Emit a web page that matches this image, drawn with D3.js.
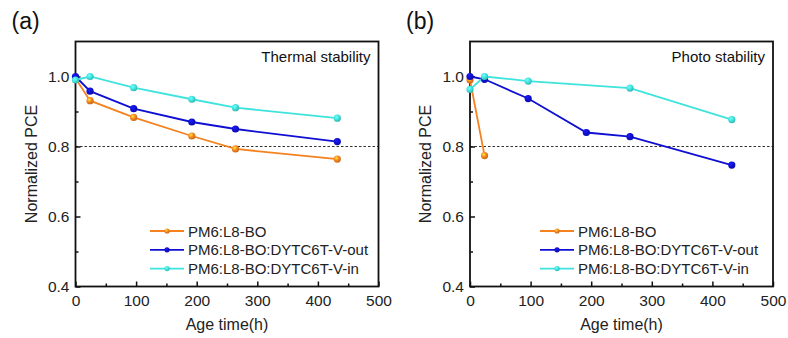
<!DOCTYPE html>
<html>
<head>
<meta charset="utf-8">
<script src="https://cdn.jsdelivr.net/npm/d3@7"></script>
<style>
  html, body { margin: 0; padding: 0; background: #fff; }
  svg { display: block; font-family: "Liberation Sans", Arial, sans-serif; }
</style>
</head>
<body>
<svg id="chart" width="788" height="338"></svg>
<script>
// Aging times (hours) and normalized PCE for each blend
const thermalTime = [0, 24, 96, 192, 264, 432];
const thermalL8BO = [0.995, 0.931, 0.883, 0.830, 0.793, 0.764];
const thermalVout = [1.0, 0.958, 0.908, 0.870, 0.850, 0.814];
const thermalVin = [0.99, 1.0, 0.968, 0.935, 0.911, 0.881];

const photoTimeL8BO = [0, 24];
const photoL8BO = [0.99, 0.774];
const photoTime = [0, 24, 96, 192, 264, 432];
const photoVout = [1.0, 0.992, 0.937, 0.840, 0.828, 0.747];
const photoTimeVin = [0, 24, 96, 264, 432];
const photoVin = [0.963, 1.0, 0.987, 0.967, 0.877];

const seriesNames = ["PM6:L8-BO", "PM6:L8-BO:DYTC6T-V-out", "PM6:L8-BO:DYTC6T-V-in"];
const seriesColors = ["#F5821F", "#0F0FD2", "#3FE3DD"];

const xTicks = [0, 100, 200, 300, 400, 500];
const xMinor = [50, 150, 250, 350, 450];
const yTicks = [0.4, 0.6, 0.8, 1.0];
const yMinor = [0.5, 0.7, 0.9];

const panels = [
  { tag: "(a)", title: "Thermal stability", left: 75.5,
    series: [
      { t: thermalTime, v: thermalL8BO },
      { t: thermalTime, v: thermalVout },
      { t: thermalTime, v: thermalVin }
    ],
    legendX: 150 },
  { tag: "(b)", title: "Photo stability", left: 470,
    series: [
      { t: photoTimeL8BO, v: photoL8BO },
      { t: photoTime, v: photoVout },
      { t: photoTimeVin, v: photoVin }
    ],
    legendX: 540 }
];

const svg = d3.select("#chart");
const plotW = 303, plotTop = 41.5, plotBottom = 286.5;

// shaded sphere markers
const defs = svg.append("defs");
seriesColors.forEach((c, i) => {
  const g = defs.append("radialGradient").attr("id", "ball" + i)
    .attr("cx", "38%").attr("cy", "35%").attr("r", "65%");
  g.append("stop").attr("offset", "0%").attr("stop-color", d3.color(c).brighter(1.6));
  g.append("stop").attr("offset", "55%").attr("stop-color", c);
  g.append("stop").attr("offset", "100%").attr("stop-color", d3.color(c).darker(0.6));
});

panels.forEach(p => {
  const x = d3.scaleLinear().domain([0, 500]).range([p.left, p.left + plotW]);
  const y = d3.scaleLinear().domain([0.4, 1.1]).range([plotBottom, plotTop]);
  const g = svg.append("g");

  // panel tag
  g.append("text").attr("x", p.left - 64).attr("y", 29)
    .attr("font-size", 23).attr("fill", "#111").text(p.tag);

  // reference line at 80 %
  g.append("line")
    .attr("x1", x(0)).attr("x2", x(500)).attr("y1", y(0.8)).attr("y2", y(0.8))
    .attr("stroke", "#333").attr("stroke-width", 1).attr("stroke-dasharray", "2.5,2");

  // bottom axis, ticks pointing inward
  const xAxis = g.append("g").attr("transform", `translate(0,${plotBottom})`)
    .call(d3.axisBottom(x).tickValues(xTicks).tickSize(-5).tickPadding(8).tickFormat(d3.format("d")));
  g.append("g").attr("transform", `translate(0,${plotBottom})`)
    .call(d3.axisBottom(x).tickValues(xMinor).tickSize(-3).tickFormat(""))
    .call(a => a.select(".domain").remove());

  // left axis, ticks pointing inward
  const yAxis = g.append("g").attr("transform", `translate(${p.left},0)`)
    .call(d3.axisLeft(y).tickValues(yTicks).tickSize(-5).tickPadding(6).tickFormat(d3.format(".1f")));
  g.append("g").attr("transform", `translate(${p.left},0)`)
    .call(d3.axisLeft(y).tickValues(yMinor).tickSize(-3).tickFormat(""))
    .call(a => a.select(".domain").remove());

  [xAxis, yAxis].forEach(a => {
    a.select(".domain").remove();
    a.selectAll("text").attr("font-size", 15.5).attr("fill", "#222")
      .attr("font-family", "'Liberation Sans', Arial, sans-serif");
  });
  g.selectAll(".tick line").attr("stroke", "#111").attr("stroke-width", 1.5);

  // frame
  g.append("rect").attr("x", x(0)).attr("y", plotTop)
    .attr("width", x(500) - x(0)).attr("height", plotBottom - plotTop)
    .attr("fill", "none").attr("stroke", "#111").attr("stroke-width", 1.8);

  // axis titles
  g.append("text").attr("x", (x(0) + x(500)) / 2).attr("y", 330)
    .attr("text-anchor", "middle").attr("font-size", 16).attr("fill", "#222").text("Age time(h)");
  g.append("text").attr("transform", `translate(${p.left - 39},${(plotTop + plotBottom) / 2}) rotate(-90)`)
    .attr("text-anchor", "middle").attr("font-size", 16).attr("fill", "#222").text("Normalized PCE");

  // panel title
  g.append("text").attr("x", x(500) - 8).attr("y", 62)
    .attr("text-anchor", "end").attr("font-size", 15).attr("fill", "#111").text(p.title);

  // data
  const line = d3.line().x(d => x(d[0])).y(d => y(d[1]));
  p.series.forEach((s, i) => {
    const pts = s.t.map((t, k) => [t, s.v[k]]);
    g.append("path").datum(pts).attr("d", line)
      .attr("fill", "none").attr("stroke", seriesColors[i]).attr("stroke-width", 1.8);
  });
  p.series.forEach((s, i) => {
    const pts = s.t.map((t, k) => [t, s.v[k]]);
    g.selectAll(null).data(pts).enter().append("circle")
      .attr("cx", d => x(d[0])).attr("cy", d => y(d[1])).attr("r", 3.6)
      .attr("fill", `url(#ball${i})`);
  });

  // legend
  seriesNames.forEach((name, i) => {
    const ly = 231 + i * 18.8;
    g.append("line").attr("x1", p.legendX).attr("x2", p.legendX + 34)
      .attr("y1", ly).attr("y2", ly).attr("stroke", seriesColors[i]).attr("stroke-width", 1.8);
    g.append("circle").attr("cx", p.legendX + 17).attr("cy", ly).attr("r", 2.6)
      .attr("fill", `url(#ball${i})`);
    g.append("text").attr("x", p.legendX + 38).attr("y", ly + 5.5)
      .attr("font-size", 15).attr("fill", "#222").text(name);
  });
});
</script>
</body>
</html>
